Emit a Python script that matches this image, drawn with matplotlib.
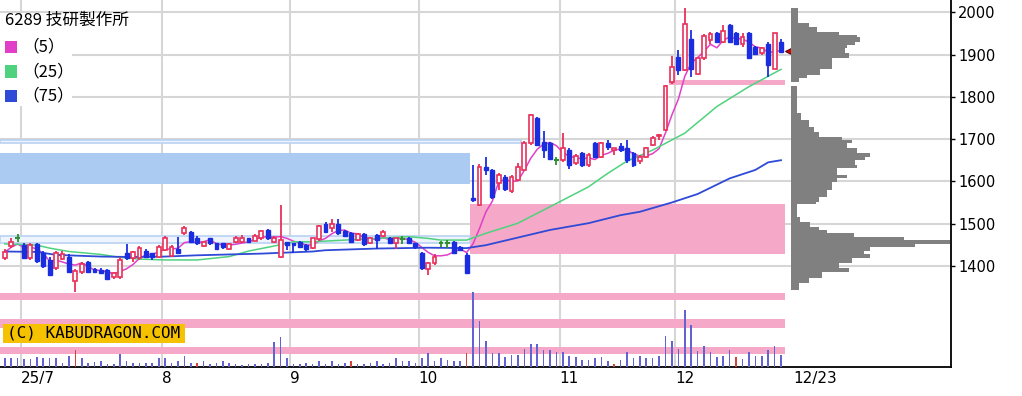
import numpy as np
import pandas as pd
import matplotlib.pyplot as plt
from matplotlib.patches import Rectangle

plt.rcParams['font.family'] = ['DejaVu Sans']

# daily candles, 2025-06-26 .. 2025-12-23 (index = trading day)
opens = [1418, 1446, 1467, 1449, 1418, 1451, 1430, 1414, 1394, 1416,
         1422, 1364, 1385, 1410, 1392, 1390, 1390, 1374, 1374, 1430,
         1418, 1418, 1435, 1430, 1422, 1438, 1424, 1441, 1477, 1481,
         1465, 1448, 1465, 1453, 1453, 1440, 1457, 1457, 1465, 1460,
         1465, 1485, 1456, 1421, 1457, 1455, 1457, 1449, 1443, 1463,
         1498, 1489, 1500, 1482, 1477, 1461, 1475, 1453, 1473, 1471,
         1467, 1453, 1463, 1467, 1453, 1430, 1392, 1406, 1453, 1455,
         1457, 1445, 1426, 1560, 1544, 1635, 1627, 1595, 1611, 1576,
         1603, 1627, 1690, 1749, 1694, 1690, 1650, 1650, 1674, 1643,
         1666, 1639, 1690, 1658, 1690, 1675, 1683, 1678, 1666, 1647,
         1658, 1686, 1708, 1721, 1836, 1895, 1863, 1936, 1855, 1891,
         1934, 1950, 1930, 1970, 1950, 1926, 1950, 1917, 1903, 1926,
         1867, 1930]
highs = [1440, 1465, 1475, 1453, 1453, 1455, 1435, 1420, 1434, 1434,
         1427, 1392, 1410, 1412, 1396, 1394, 1392, 1386, 1420, 1451,
         1436, 1448, 1441, 1430, 1450, 1470, 1449, 1469, 1495, 1483,
         1470, 1460, 1467, 1455, 1455, 1453, 1470, 1473, 1467, 1475,
         1486, 1487, 1470, 1543, 1457, 1455, 1460, 1452, 1467, 1497,
         1503, 1512, 1512, 1485, 1480, 1477, 1477, 1469, 1476, 1485,
         1469, 1467, 1471, 1469, 1455, 1432, 1410, 1428, 1460, 1462,
         1459, 1448, 1430, 1638, 1640, 1658, 1630, 1619, 1615, 1615,
         1643, 1695, 1760, 1752, 1718, 1693, 1658, 1714, 1678, 1665,
         1670, 1666, 1692, 1694, 1698, 1678, 1690, 1698, 1670, 1662,
         1681, 1707, 1712, 1828, 1896, 1911, 2009, 1958, 1893, 1948,
         1954, 1953, 1970, 1972, 1954, 1950, 1954, 1920, 1918, 1929,
         1952, 1938]
lows = [1413, 1443, 1457, 1417, 1414, 1406, 1396, 1375, 1390, 1413,
        1383, 1339, 1380, 1383, 1382, 1380, 1368, 1368, 1370, 1414,
        1410, 1414, 1418, 1414, 1418, 1434, 1420, 1428, 1474, 1455,
        1450, 1445, 1450, 1438, 1439, 1438, 1455, 1455, 1453, 1458,
        1462, 1462, 1453, 1418, 1437, 1430, 1443, 1436, 1440, 1460,
        1478, 1481, 1474, 1468, 1455, 1459, 1448, 1451, 1441, 1469,
        1451, 1441, 1452, 1451, 1441, 1390, 1378, 1403, 1444, 1443,
        1428, 1434, 1380, 1550, 1542, 1615, 1559, 1580, 1578, 1573,
        1600, 1624, 1687, 1683, 1655, 1650, 1638, 1646, 1630, 1639,
        1635, 1635, 1655, 1655, 1674, 1663, 1670, 1643, 1635, 1642,
        1655, 1683, 1698, 1719, 1830, 1852, 1860, 1848, 1852, 1888,
        1926, 1928, 1927, 1927, 1922, 1918, 1890, 1898, 1899, 1847,
        1866, 1903]
closes = [1432, 1456, 1467, 1418, 1449, 1411, 1400, 1378, 1430, 1427,
          1386, 1388, 1405, 1385, 1386, 1382, 1370, 1382, 1414, 1418,
          1433, 1442, 1422, 1422, 1445, 1466, 1445, 1430, 1489, 1457,
          1453, 1457, 1453, 1441, 1444, 1451, 1467, 1467, 1456, 1471,
          1482, 1465, 1467, 1461, 1450, 1449, 1445, 1440, 1465, 1495,
          1481, 1500, 1477, 1471, 1457, 1475, 1451, 1467, 1461, 1479,
          1453, 1465, 1463, 1453, 1444, 1394, 1406, 1422, 1453, 1455,
          1430, 1437, 1384, 1555, 1635, 1627, 1564, 1615, 1581, 1611,
          1635, 1690, 1757, 1686, 1674, 1654, 1650, 1678, 1639, 1660,
          1639, 1662, 1658, 1690, 1682, 1678, 1674, 1651, 1639, 1658,
          1678, 1702, 1710, 1826, 1871, 1863, 1972, 1867, 1891, 1944,
          1948, 1930, 1956, 1930, 1926, 1942, 1893, 1901, 1915, 1875,
          1950, 1907]
volume = [9, 9, 9, 8, 8, 10, 9, 9, 9, 4, 11, 17, 9, 4, 5, 6, 3, 3, 13, 6,
          4, 4, 4, 4, 9, 9, 4, 6, 11, 4, 4, 6, 3, 4, 6, 4, 3, 2, 3, 3,
          3, 4, 25, 30, 9, 3, 3, 4, 3, 6, 3, 6, 3, 4, 6, 3, 3, 4, 6, 3,
          4, 9, 5.6, 5.6, 4, 9, 14, 5.6, 9, 7, 5.6, 5.6, 14, 74.6, 45.6, 26, 14, 14, 10, 12,
          12, 18, 23, 23, 17, 17, 15, 15, 11, 10, 7, 7, 9, 10, 6, 3, 7, 15, 9, 11,
          9, 9, 11, 31, 26, 18, 57, 42, 16, 21, 15, 10, 11, 17, 10, 8, 15, 11, 11, 17,
          21, 12]
red_volume_days = [11, 30, 54, 72, 95, 114]

# moving averages (25 and 75 day)
ma25_idx = [0, 5, 7, 10, 15, 18, 21, 25, 30, 35, 38, 40, 43, 45, 48, 53, 58, 63,
            66, 68, 72, 75, 80, 85, 91, 94, 97, 101, 106, 111, 116, 121]
ma25_val = [1452, 1449, 1442, 1434, 1427, 1420, 1416, 1414, 1414, 1422, 1435, 1441,
            1450, 1457, 1457, 1461, 1465, 1469, 1465, 1461, 1461, 1477, 1501, 1540,
            1587, 1619, 1648, 1674, 1714, 1777, 1824, 1865]
ma75_idx = [0, 5, 8, 15, 20, 25, 30, 40, 48, 50, 58, 66, 72, 75, 80, 85, 91, 96,
            99, 104, 108, 113, 117, 119, 121]
ma75_val = [1434, 1433, 1426, 1422, 1421, 1422, 1425, 1429, 1434, 1437, 1441, 1443,
            1442, 1449, 1467, 1485, 1501, 1520, 1528, 1550, 1570, 1607, 1627, 1645,
            1650]

# price-by-volume profile (price band low / high, relative volume)
prof_hi = [2009, 1974, 1966, 1954, 1946, 1942, 1930, 1923, 1915, 1903, 1891, 1867,
           1852, 1844, 1826, 1761, 1745, 1729, 1717, 1706, 1698, 1690, 1678, 1666,
           1658, 1651, 1639, 1631, 1615, 1607, 1599, 1580, 1564, 1552, 1546, 1516,
           1504, 1493, 1485, 1477, 1468, 1461, 1451, 1444, 1436, 1428, 1418, 1406,
           1394, 1386, 1371, 1359]
prof_lo = prof_hi[1:14] + [1836] + prof_hi[15:] + [1343]
prof_vol = [7, 18, 26, 48, 66, 69, 64, 56, 54, 58, 41, 29, 16, 8,
            6, 10, 18, 23, 28, 51, 61, 56, 66, 79, 74, 64, 66, 46, 56, 46, 41, 36,
            28, 25, 6, 9, 19, 28, 36, 63, 113, 159, 124, 79, 73, 79, 61, 48, 58, 31,
            18, 8]
last_price = 1908

month_first_idx = [3, 25, 45, 65, 87, 105]
month_labels = ['25/7', '8', '9', '10', '11', '12']
last_label = '12/23'
price_ticks = [1400, 1500, 1600, 1700, 1800, 1900, 2000]

title = '6289 技研製作所'
ma_labels = ['（5）', '（25）', '（75）']

UP = '#e8305a'
DOWN = '#1a2ee0'
DOJI = '#2f8f2f'
PINK = '#f5a8c8'
LBLUE = '#abcbf3'
MA_COLORS = ['#e23fc9', '#4fd27e', '#2f4ad6']

W, H = 1022, 396
AX_R, AX_B = 951, 367
fig = plt.figure(figsize=(W / 100, H / 100), dpi=100)
ax = fig.add_axes([0, (H - AX_B) / H, AX_R / W, AX_B / H])

n = len(closes)
x = np.arange(n)
xlim = (-0.74, 147.5)
ylim = (1160.7, 2029.1)
ax.set_xlim(*xlim)
ax.set_ylim(*ylim)
ax.set_axisbelow(True)

# zones
last_x = n - 0.4
gap_x = 72.5
zones = [(xlim[0], last_x, 1319, 1336, PINK), (xlim[0], last_x, 1252, 1275, PINK),
         (xlim[0], last_x, 1192, 1209, PINK), (gap_x, last_x, 1428, 1547, PINK),
         (103.5, last_x, 1828, 1840, PINK), (xlim[0], gap_x, 1593, 1667, LBLUE)]
for x0, x1, lo, hi, c in zones:
    ax.add_patch(Rectangle((x0, lo), x1 - x0, hi - lo, facecolor=c, edgecolor='none', zorder=1))
for x0, x1, lo, hi in [(xlim[0], 80.5, 1690, 1699), (xlim[0], gap_x, 1455, 1470)]:
    ax.add_patch(Rectangle((x0, lo), x1 - x0, hi - lo, facecolor='#eef4fd',
                           edgecolor='#b9d2f2', lw=1.2, zorder=1))

# moving averages
ma5 = pd.Series(closes).rolling(5, min_periods=1).mean()
ax.plot(x, ma5, color=MA_COLORS[0], lw=1.1, zorder=2)
ax.plot(ma25_idx, ma25_val, color=MA_COLORS[1], lw=1.1, zorder=2)
ax.plot(ma75_idx, ma75_val, color=MA_COLORS[2], lw=1.3, zorder=2)

# candles
o, h, l, c = map(np.array, (opens, highs, lows, closes))
up, down, doji = c > o, c < o, c == o
ax.vlines(x[up], l[up], h[up], color=UP, lw=1.3, zorder=3)
ax.vlines(x[down], l[down], h[down], color=DOWN, lw=1.3, zorder=3)
ax.vlines(x[doji], l[doji], h[doji], color=DOJI, lw=1.3, zorder=3)
ax.bar(x[up], (c - o)[up], bottom=o[up], width=0.6, facecolor='white',
       edgecolor=UP, lw=1.2, zorder=4)
ax.bar(x[down], (o - c)[down], bottom=c[down], width=0.6, facecolor=DOWN,
       edgecolor=DOWN, lw=1.0, zorder=4)
ax.hlines(c[doji], x[doji] - 0.35, x[doji] + 0.35, color=DOJI, lw=1.5, zorder=4)

ax.plot([n + 0.6], [last_price], marker='<', ms=8, color='#e00000', mec='#600000',
        mew=0.8, zorder=6, clip_on=False)

# axes styling
ax.set_xticks([i - 0.5 for i in month_first_idx])
ax.set_xticklabels(month_labels)
ax.set_xticks([n + 0.9], minor=True)
ax.set_xticklabels([last_label], minor=True)
for lab in ax.get_xticklabels(minor=False) + ax.get_xticklabels(minor=True):
    lab.set_horizontalalignment('left')
ax.tick_params(axis='x', which='both', length=0, pad=3, labelsize=11)
ax.yaxis.tick_right()
ax.set_yticks(price_ticks)
ax.tick_params(axis='y', direction='out', length=3, width=1, pad=2, labelsize=10.5)
ax.grid(True, which='major', color='#d6d6d6', lw=1.5)
for s in ['top', 'left']:
    ax.spines[s].set_visible(False)
for s in ['bottom', 'right']:
    ax.spines[s].set_linewidth(1.3)

# legend block
ax.add_patch(Rectangle((0, 1 - 31 / AX_B), 150 / AX_R, 18 / AX_B, transform=ax.transAxes,
                       facecolor='white', edgecolor='none', zorder=1.2))
ax.add_patch(Rectangle((0, 1 - 106 / AX_B), 72 / AX_R, 76 / AX_B, transform=ax.transAxes,
                       facecolor='white', edgecolor='none', zorder=1.2))
ax.text(5 / AX_R, 1 - 20 / AX_B, title, transform=ax.transAxes, fontsize=12,
        family=['Noto Sans CJK JP', 'DejaVu Sans'], va='center', ha='left', zorder=7)
for k, (lab, col) in enumerate(zip(ma_labels, MA_COLORS)):
    yc = 47 + 24.5 * k
    ax.add_patch(Rectangle((5 / AX_R, 1 - (yc + 6) / AX_B), 12 / AX_R, 12 / AX_B,
                           transform=ax.transAxes, facecolor=col, edgecolor='none', zorder=7))
    ax.text(22 / AX_R, 1 - yc / AX_B, lab, transform=ax.transAxes, fontsize=12,
            family=['Noto Sans CJK JP', 'DejaVu Sans'], va='center', ha='left', zorder=7)

# volume
vax = fig.add_axes([0, (H - AX_B) / H, AX_R / W, 80 / H])
vax.patch.set_visible(False)
vax.set_xlim(*xlim)
vax.set_ylim(0, 80)
vax.axis('off')
vcol = ['#d2433f' if i in red_volume_days else '#6262d2' for i in range(n)]
vax.bar(x, volume, width=0.25, color=vcol, zorder=2)
vax.add_patch(Rectangle((3 / AX_R, (AX_B - 343) / 80), 182 / AX_R, 19 / 80,
                        transform=vax.transAxes, facecolor='#f6c200', edgecolor='none', zorder=5))
vax.text(94 / AX_R, (AX_B - 333.5) / 80, '(C) KABUDRAGON.COM', transform=vax.transAxes,
         family='DejaVu Sans Mono', fontsize=11.5, ha='center', va='center', zorder=6)

# price-by-volume profile
pax = fig.add_axes([790.7 / W, (H - AX_B) / H, (AX_R - 790.7) / W, AX_B / H])
pax.patch.set_visible(False)
pax.set_ylim(*ylim)
pax.set_xlim(0, AX_R - 790.7)
pax.axis('off')
lo = np.array(prof_lo)
hi = np.array(prof_hi)
pax.barh((lo + hi) / 2, prof_vol, height=hi - lo, left=0, color='#808080', lw=0)

fig.savefig('out.png', dpi=100)
